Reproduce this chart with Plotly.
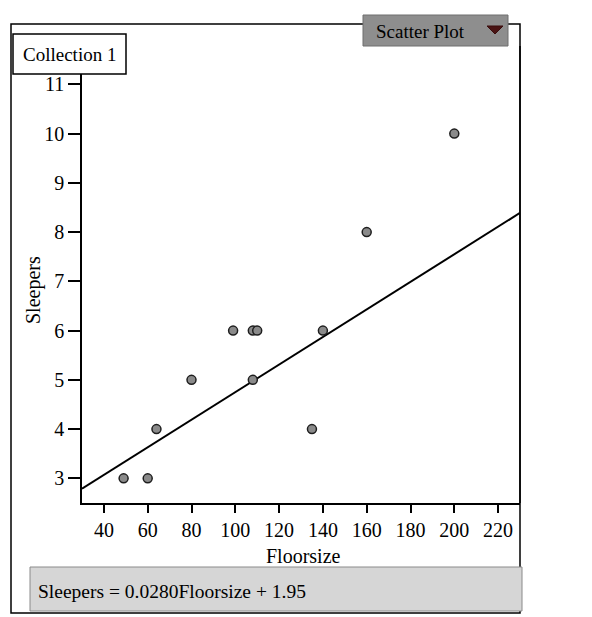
import plotly.graph_objects as go

# ---- data ----
floorsize = [49, 60, 64, 80, 99, 108, 110, 108, 140, 135, 160, 200]
sleepers = [3, 3, 4, 5, 6, 6, 6, 5, 6, 4, 8, 10]
line_slope = 0.0280
line_intercept = 1.95
x_range = [30, 230]
y_range = [2.5, 11.9]
x_ticks = [40, 60, 80, 100, 120, 140, 160, 180, 200, 220]
y_ticks = [3, 4, 5, 6, 7, 8, 9, 10, 11]
collection_title = "Collection 1"
plot_type = "Scatter Plot"
x_title = "Floorsize"
y_title = "Sleepers"
equation = "Sleepers = 0.0280Floorsize + 1.95"

# ---- layout geometry (pixels) ----
W, H = 592, 617
L, R, T, B = 82, 520, 40, 503
FONT = "Liberation Serif, Times New Roman, serif"


def xp(px):
    return (px - L) / (R - L)


def yp(py):
    return (B - py) / (B - T)


line_x = list(x_range)
line_y = [line_slope * v + line_intercept for v in line_x]

fig = go.Figure()
fig.add_trace(go.Scatter(x=line_x, y=line_y, mode="lines",
                         line=dict(color="black", width=2), hoverinfo="skip"))
fig.add_trace(go.Scatter(x=floorsize, y=sleepers, mode="markers",
                         marker=dict(size=9, color="#8a8a8a",
                                     line=dict(color="#1e1e1e", width=1.5))))

shapes = []
# outer frame
shapes.append(dict(type="rect", xref="paper", yref="paper",
                   x0=xp(11), x1=xp(R), y0=yp(613), y1=yp(24),
                   line=dict(color="black", width=1.5), fillcolor="rgba(0,0,0,0)",
                   layer="above"))
# right border of plot
shapes.append(dict(type="line", xref="paper", yref="paper",
                   x0=1, x1=1, y0=0, y1=yp(46),
                   line=dict(color="black", width=1.5), layer="above"))
# collection box
shapes.append(dict(type="rect", xref="paper", yref="paper",
                   x0=xp(13), x1=xp(126), y0=yp(74), y1=yp(34),
                   line=dict(color="black", width=1.5), fillcolor="white",
                   layer="above"))
# scatter plot menu box
shapes.append(dict(type="rect", xref="paper", yref="paper",
                   x0=xp(363), x1=xp(508), y0=yp(46), y1=yp(15),
                   line=dict(color="#6e6e6e", width=1), fillcolor="#8e8e8e",
                   layer="above"))
# triangle on menu
tx0, tx1, ty0, ty1 = xp(487), xp(503), yp(26), yp(34)
shapes.append(dict(type="path", xref="paper", yref="paper",
                   path=f"M {tx0} {ty0} L {tx1} {ty0} L {(tx0 + tx1) / 2} {ty1} Z",
                   line=dict(color="#3a0d0d", width=1), fillcolor="#4a1414",
                   layer="above"))
# equation bar
shapes.append(dict(type="rect", xref="paper", yref="paper",
                   x0=xp(30), x1=xp(522), y0=yp(611), y1=yp(567),
                   line=dict(color="#8a8a8a", width=1), fillcolor="#d6d6d6",
                   layer="above"))

annotations = [
    dict(text=collection_title, xref="paper", yref="paper", x=xp(69.5), y=yp(55),
         showarrow=False, font=dict(family=FONT, size=19, color="black"),
         xanchor="center", yanchor="middle"),
    dict(text=plot_type, xref="paper", yref="paper", x=xp(420), y=yp(31),
         showarrow=False, font=dict(family=FONT, size=19, color="black"),
         xanchor="center", yanchor="middle"),
    dict(text=x_title, xref="paper", yref="paper", x=xp(303), y=yp(556),
         showarrow=False, font=dict(family=FONT, size=20, color="black"),
         xanchor="center", yanchor="middle"),
    dict(text=y_title, xref="paper", yref="paper", x=xp(33), y=yp(290),
         showarrow=False, textangle=-90, font=dict(family=FONT, size=20, color="black"),
         xanchor="center", yanchor="middle"),
    dict(text=equation, xref="paper", yref="paper", x=xp(36), y=yp(591),
         showarrow=False, font=dict(family=FONT, size=19.5, color="black"),
         xanchor="left", yanchor="middle"),
]

fig.update_layout(
    width=W, height=H,
    margin=dict(l=L, r=W - R, t=T, b=H - B, pad=0),
    paper_bgcolor="white", plot_bgcolor="white",
    showlegend=False,
    shapes=shapes, annotations=annotations,
    font=dict(family=FONT, size=20, color="black"),
    xaxis=dict(range=x_range, tickvals=x_ticks, ticks="outside", ticklen=8,
               tickwidth=1.5, tickcolor="black", showgrid=False, zeroline=False,
               showline=True, linecolor="black", linewidth=1.5,
               tickfont=dict(family=FONT, size=20, color="black")),
    yaxis=dict(range=y_range, tickvals=y_ticks, ticks="outside", ticklen=12,
               tickwidth=1.5, tickcolor="black", showgrid=False, zeroline=False,
               showline=True, linecolor="black", linewidth=1.5,
               tickfont=dict(family=FONT, size=20, color="black")),
)

fig.write_html("out.html")
